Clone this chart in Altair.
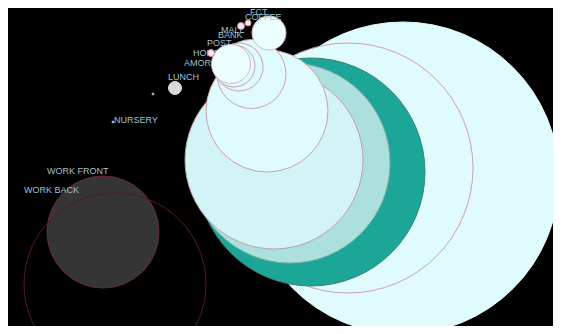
import altair as alt
import pandas as pd

# ---- bubbles (drawn in this order) ----
bubble_name = ["ALL", "RING", "TEAL", "PALE", "SHADE", "C4", "C3", "C2", "C1",
               "AMOR", "HOME", "COFFEE", "S1", "S2", "LUNCH", "D1", "D2",
               "WORK FRONT", "WORK BACK"]
bubble_x = [403, 348, 311, 290, 274, 267, 251.5, 239, 234,
            231, 211, 269, 241, 248, 175, 153, 113,
            103, 115]
bubble_y = [178, 168, 172, 163, 160, 111, 74, 67, 66,
            64, 53, 33, 26, 23, 88, 94, 122,
            232, 284]
bubble_r = [156, 125, 114, 100, 89, 61, 34.5, 24, 21,
            19.5, 3.5, 17, 3.5, 3, 6.5, 1, 1,
            56, 91]
bubble_kind = ["light", "outlined", "teal", "pale", "shade", "outlined", "outlined", "outlined", "outlined",
               "white", "pinkdot", "white", "pinkdot", "pinkdot", "gray", "dot", "dot",
               "dark", "ring"]

# ---- labels ----
label_text = ["FCT", "COFFEE", "MALL", "BANK", "POST", "HOME", "AMOR", "LUNCH",
              "NURSERY", "WORK FRONT", "WORK BACK"]
label_x = [250, 245, 221, 218, 207, 193, 184, 168, 114, 47, 24]
label_y = [12, 17, 30, 35, 43, 53, 63, 77, 120, 171, 190]
label_on_top = [True, True, False, False, False, False, False, True, True, True, True]

kinds = ["light", "outlined", "teal", "pale", "shade", "white", "pinkdot", "gray", "dot", "dark", "ring"]
fill_colors = ["#e0fbfc", "#e0fbfc", "#1ba697", "#abe0dc", "#d3f4f6", "#ebfdfd", "#f6e6ee",
               "#d9d9d9", "#9fc3cf", "#353535", "transparent"]
stroke_colors = ["#e0fbfc", "#cc9fb2", "#3f7f7a", "#8ab0ae", "#bf9fae", "#d6b7c4", "#d08aa6",
                 "#d9d9d9", "#9fc3cf", "#6a2a34", "#5b1822"]

bubbles = pd.DataFrame({
    "name": bubble_name, "x": bubble_x, "y": bubble_y, "r": bubble_r,
    "kind": bubble_kind, "idx": list(range(len(bubble_name)))
})
labels = pd.DataFrame({"text": label_text, "x": label_x, "y": label_y, "top": label_on_top})

xs = alt.Scale(domain=[8, 553], nice=False, zero=False)
ys = alt.Scale(domain=[8, 326], nice=False, zero=False, reverse=True)

text_base = alt.Chart(labels).mark_text(
    align="left", baseline="middle", font="Liberation Sans", fontSize=9,
    color="#9fc3cf"
).encode(
    x=alt.X("x:Q", scale=xs, axis=None),
    y=alt.Y("y:Q", scale=ys, axis=None),
    text="text:N",
)
text_under = text_base.transform_filter("!datum.top")
text_over = text_base.transform_filter("datum.top")

circles = alt.Chart(bubbles).mark_circle(opacity=1, strokeWidth=1, clip=True).encode(
    x=alt.X("x:Q", scale=xs, axis=None),
    y=alt.Y("y:Q", scale=ys, axis=None),
    size=alt.Size("r:Q", scale=alt.Scale(type="pow", exponent=2, domain=[0, 200], range=[0, 160000]), legend=None),
    fill=alt.Fill("kind:N", scale=alt.Scale(domain=kinds, range=fill_colors), legend=None),
    stroke=alt.Stroke("kind:N", scale=alt.Scale(domain=kinds, range=stroke_colors), legend=None),
    order=alt.Order("idx:Q"),
    tooltip=["name:N"],
)

chart = alt.layer(text_under, circles, text_over).properties(
    width=545, height=318, background="#000000", padding=0
).configure_view(stroke=None)

chart.save("out.html", embed_options={"renderer": "svg", "actions": False})
